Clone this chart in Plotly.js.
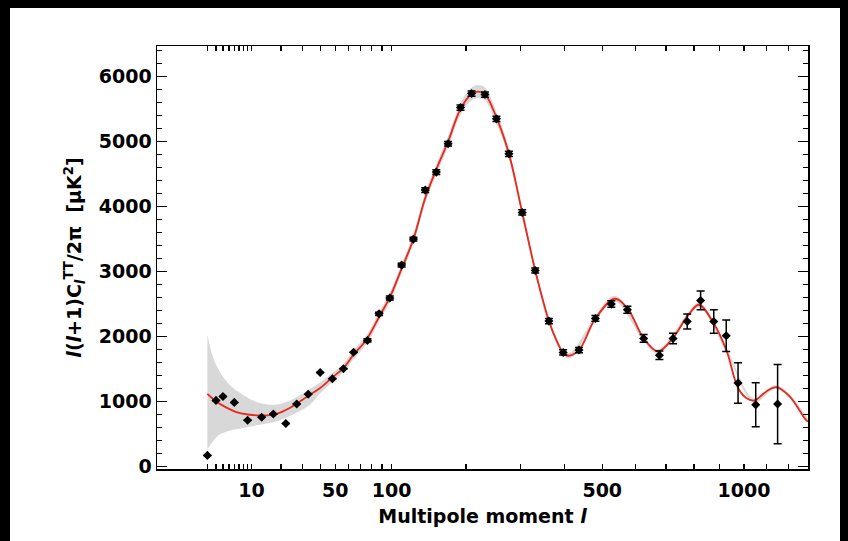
<!DOCTYPE html>
<html>
<head>
<meta charset="utf-8">
<script src="https://cdn.plot.ly/plotly-3.0.1.min.js"></script>
<style>
  html, body { margin: 0; padding: 0; background: #ffffff; }
  #chart { position: absolute; left: 0; top: 0; width: 848px; height: 541px; }
  .edge { position: absolute; background: #000; pointer-events: none; }
</style>
</head>
<body>
<div id="chart"></div>
<div class="edge" style="left:0;top:0;width:848px;height:8px;"></div>
<div class="edge" style="left:0;top:0;width:10px;height:541px;"></div>
<div class="edge" style="left:840px;top:0;width:8px;height:541px;"></div>
<script>
// ---- data ----
const dataEll = [2, 3, 4, 6, 9, 13, 17, 22, 27, 33, 40, 48, 56, 64, 76, 87, 98, 111, 125, 140, 155, 172, 191, 209, 232, 253, 277, 304, 332, 363, 397, 437, 481, 526, 574, 625, 677, 724, 775, 825, 876, 926, 975, 1051, 1150];
const dataCl = [169, 1016, 1075, 985, 711, 757, 806, 660, 960, 1110, 1446, 1349, 1503, 1757, 1938, 2349, 2591, 3098, 3498, 4252, 4529, 4965, 5523, 5738, 5723, 5349, 4811, 3908, 3015, 2237, 1754, 1791, 2277, 2498, 2411, 1969, 1710, 1969, 2231, 2554, 2231, 2011, 1283, 949, 960];
const dataErr = [0, 0, 0, 0, 0, 0, 0, 0, 0, 0, 0, 0, 0, 0, 25, 25, 30, 30, 30, 35, 35, 35, 40, 40, 40, 40, 40, 40, 40, 40, 40, 40, 45, 50, 55, 60, 65, 82, 115, 144, 180, 241, 313, 338, 610];

const modelEll = [2, 2.9, 4.5, 6.4, 9.5, 13.4, 18, 23.7, 30, 34, 40, 48, 56, 64, 75, 87, 98, 109, 125, 140, 155, 172, 191, 209, 220, 232, 253, 277, 304, 332, 349, 363, 380, 397, 409, 437, 481, 536, 574, 625, 672, 724, 775, 819, 875, 926, 975, 1010, 1044, 1098, 1144, 1207, 1288, 1300];
const modelCl = [1115, 1011, 908, 837, 795, 785, 806, 898, 1026, 1103, 1206, 1370, 1514, 1720, 1949, 2300, 2600, 2975, 3500, 4130, 4570, 5000, 5500, 5730, 5769, 5730, 5370, 4811, 3908, 3015, 2565, 2237, 1950, 1750, 1703, 1790, 2277, 2580, 2437, 1969, 1769, 1975, 2308, 2488, 2206, 1795, 1206, 1052, 1015, 1154, 1221, 1077, 708, 690];

const bandEll = [2, 2.6, 3.5, 5.1, 7.9, 12.4, 18, 25, 34, 40, 48, 56, 64, 75, 87, 98, 109, 125, 140, 155, 172, 191, 209, 220, 232, 253, 277, 304, 332, 363, 409, 481, 536, 625, 672, 775, 819, 926, 1044, 1144, 1300];
const bandHi = [2030, 1690, 1460, 1255, 1100, 975, 950, 1030, 1190, 1290, 1440, 1580, 1790, 2020, 2370, 2670, 3045, 3575, 4210, 4650, 5085, 5590, 5830, 5870, 5830, 5460, 4890, 3980, 3075, 2285, 1745, 2320, 2625, 2010, 1805, 2345, 2525, 1830, 1045, 1250, 720];
const bandLo = [260, 385, 490, 550, 590, 640, 690, 795, 950, 1125, 1300, 1450, 1650, 1880, 2230, 2530, 2905, 3425, 4050, 4490, 4915, 5410, 5630, 5670, 5630, 5280, 4730, 3840, 2955, 2190, 1660, 2235, 2535, 1930, 1735, 2270, 2450, 1760, 985, 1190, 660];

const labelTickEll = [10, 50, 100, 500, 1000];
const labelTickText = ['10', '50', '100', '500', '1000'];
const otherTickEll = [2, 3, 4, 5, 6, 7, 8, 9, 20, 30, 40, 60, 70, 80, 90, 200, 300, 400, 600, 700, 800, 900, 1100, 1200];

// ---- axis scale: the reference x axis is linear in l^0.4 ----
const P = 0.4;
const tx = l => Math.pow(l, P);

const bold = {family: 'DejaVu Sans', size: 19, weight: 'bold', color: '#000'};

const traces = [
  {x: bandEll.map(tx), y: bandLo, mode: 'lines', line: {width: 0, shape: 'spline'}, hoverinfo: 'skip'},
  {x: bandEll.map(tx), y: bandHi, mode: 'lines', line: {width: 0, shape: 'spline'},
   fill: 'tonexty', fillcolor: 'rgb(216,216,216)', hoverinfo: 'skip'},
  {x: modelEll.map(tx), y: modelCl, mode: 'lines', line: {color: '#e8281c', width: 1.8, shape: 'spline', smoothing: 1}},
  {x: dataEll.map(tx), y: dataCl, mode: 'markers',
   marker: {symbol: 'diamond', size: 7, color: '#000'},
   error_y: {type: 'data', array: dataErr, visible: true, color: '#000', thickness: 1.5, width: 4}}
];

const layout = {
  width: 848, height: 541,
  margin: {l: 157, r: 40, t: 46, b: 72},
  paper_bgcolor: '#fff', plot_bgcolor: '#fff',
  showlegend: false, hovermode: false,
  xaxis: {
    range: [-0.045, 17.583],
    tickmode: 'array', tickvals: labelTickEll.map(tx), ticktext: labelTickText,
    ticks: 'inside', ticklen: 5, tickwidth: 1.3, tickcolor: '#000',
    minor: {tickmode: 'array', tickvals: otherTickEll.map(tx), ticks: 'inside', ticklen: 5, tickwidth: 1.3, tickcolor: '#000', showgrid: false},
    showline: true, linecolor: '#000', linewidth: 1.5, mirror: 'ticks',
    showgrid: false, zeroline: false,
    tickfont: bold, ticklabelstandoff: 4,
    title: {text: 'Multipole moment <i>l</i>', font: bold, standoff: 9}
  },
  yaxis: {
    range: [-40, 6470],
    tickmode: 'linear', tick0: 0, dtick: 1000,
    ticks: 'inside', ticklen: 10, tickwidth: 1.3, tickcolor: '#000',
    minor: {tickmode: 'linear', tick0: 0, dtick: 200, ticks: 'inside', ticklen: 5, tickwidth: 1.3, tickcolor: '#000', showgrid: false},
    showline: true, linecolor: '#000', linewidth: 1.5, mirror: 'ticks',
    showgrid: false, zeroline: false,
    tickfont: bold, ticklabelstandoff: 0,
    title: {text: '<i>l</i>(<i>l</i>+1)C<sub><i>l</i></sub><sup>TT</sup>/2π  [μK<sup>2</sup>]', font: bold, standoff: 12}
  }
};

Plotly.newPlot('chart', traces, layout, {displayModeBar: false, staticPlot: true});
</script>
</body>
</html>
